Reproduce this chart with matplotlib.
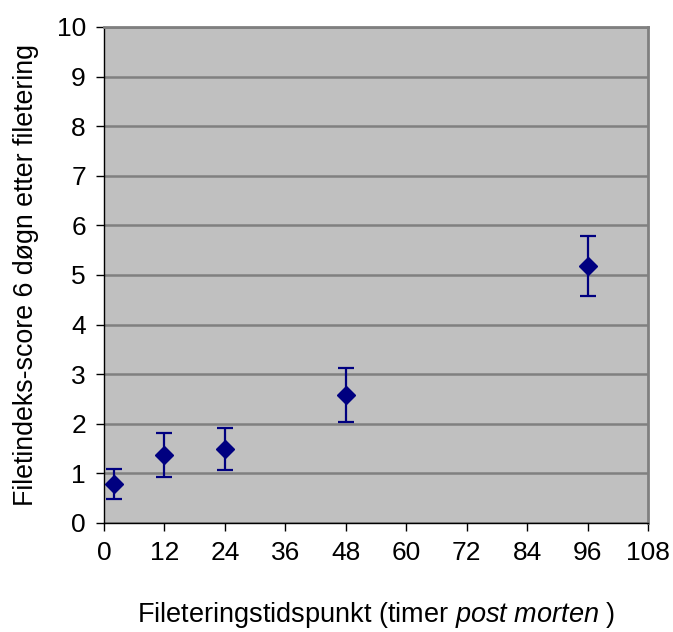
import matplotlib
matplotlib.use("Agg")
import matplotlib.pyplot as plt

hours = [2, 12, 24, 48, 96]
score = [0.78, 1.37, 1.49, 2.58, 5.18]
err = [0.30, 0.44, 0.42, 0.54, 0.60]
xticks = [0, 12, 24, 36, 48, 60, 72, 84, 96, 108]
yticks = list(range(0, 11))

plt.rcParams['font.family'] = ['Liberation Sans', 'DejaVu Sans']
plt.rcParams['mathtext.fontset'] = 'custom'
plt.rcParams['mathtext.rm'] = 'Liberation Sans'
plt.rcParams['mathtext.it'] = 'Liberation Sans:italic'

fig = plt.figure(figsize=(6.73, 6.32), dpi=100)
ax = fig.add_axes([104/673, 1 - 523/632, 544/673, 496/632])
ax.set_facecolor('#C0C0C0')
ax.set_xlim(0, 108)
ax.set_ylim(0, 10)
ax.set_xticks(xticks)
ax.set_yticks(yticks)
ax.grid(axis='y', color='#808080', linewidth=1.8)
ax.set_axisbelow(True)
for s in ['top', 'right']:
    ax.spines[s].set_color('#808080')
    ax.spines[s].set_linewidth(2)
for s in ['left', 'bottom']:
    ax.spines[s].set_color('#000000')
    ax.spines[s].set_linewidth(1)
ax.tick_params(direction='out', length=6, width=1, labelsize=19, pad=7)

ax.errorbar(hours, score, yerr=err, fmt='D', color='#000080', markersize=9,
            ecolor='#000080', elinewidth=1.6, capsize=6, capthick=1.6, zorder=3)

ax.set_xlabel('Fileteringstidspunkt (timer $\\mathit{post\\ morten}$ )', fontsize=19.5, labelpad=25)
ax.set_ylabel('Filetindeks-score 6 døgn etter filetering', fontsize=19.3, labelpad=13)

fig.savefig('out.png', dpi=100)
